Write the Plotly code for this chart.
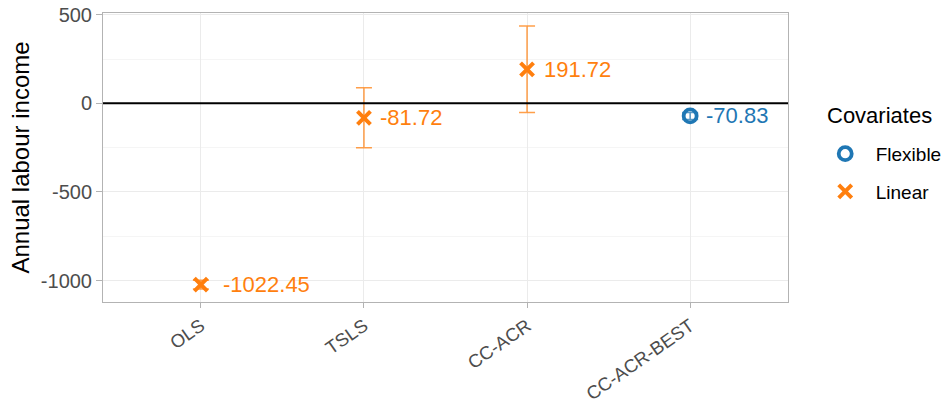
import plotly.graph_objects as go

methods = ["OLS", "TSLS", "CC-ACR", "CC-ACR-BEST"]
covariates = ["Linear", "Linear", "Linear", "Flexible"]
estimates = [-1022.45, -81.72, 191.72, -70.83]
ci_low = [-1047.0, -250.0, -51.0, -91.0]
ci_high = [-998.0, 88.0, 436.0, -51.0]

y_ticks = [500, 0, -500, -1000]
y_minor = [250, -250, -750]

colors = {"Flexible": "#1F77B4", "Linear": "#FF7F0E"}
err_colors = {"Flexible": "rgba(31,119,180,0.75)", "Linear": "rgba(255,127,14,0.75)"}
symbols = {"Flexible": "circle-open", "Linear": "x-thin-open"}
sizes = {"Flexible": 13, "Linear": 13}
lw = {"Flexible": 3.8, "Linear": 4}

FONT = "Liberation Sans, Arial, sans-serif"
LABEL_SIZE = 22
CHAR_W = {"-": 0.333, ".": 0.278}


def text_width(s, size):
    return sum(CHAR_W.get(c, 0.556) for c in s) * size


fig = go.Figure()

for grp in ["Flexible", "Linear"]:
    idx = [i for i, c in enumerate(covariates) if c == grp]
    xs = [i + 1 for i in idx]
    ys = [estimates[i] for i in idx]
    plus = [ci_high[i] - estimates[i] for i in idx]
    minus = [estimates[i] - ci_low[i] for i in idx]
    fig.add_trace(go.Scatter(
        x=xs, y=ys, mode="markers", name=grp, legendgroup=grp,
        marker=dict(symbol=symbols[grp], size=sizes[grp], color=colors[grp],
                    line=dict(width=lw[grp], color=colors[grp])),
        error_y=dict(type="data", array=plus, arrayminus=minus, symmetric=False,
                     color=err_colors[grp], thickness=1.5, width=8),
    ))
    for x, y in zip(xs, ys):
        label = f"{y:.2f}"
        shift = 0.27 * text_width(label, LABEL_SIZE) - 3
        fig.add_annotation(x=x, y=y, text=label, showarrow=False,
                           xanchor="left", yanchor="middle", xshift=shift,
                           font=dict(size=LABEL_SIZE, color=colors[grp], family=FONT))

fig.add_hline(y=0, line=dict(color="black", width=2))

# legend title as annotation
fig.add_annotation(xref="paper", yref="paper", x=1.054, y=0.647, text="Covariates",
                   showarrow=False, xanchor="left", yanchor="middle",
                   font=dict(size=22, color="black", family=FONT))

fig.update_layout(
    width=948, height=407,
    margin=dict(l=103, r=160, t=13, b=105, autoexpand=False),
    plot_bgcolor="white", paper_bgcolor="white",
    font=dict(family=FONT, color="#4D4D4D"),
    legend=dict(font=dict(size=19, color="black"),
                x=1.039, y=0.447, xanchor="left", yanchor="middle",
                itemsizing="trace", tracegroupgap=10, itemwidth=51),
    showlegend=True,
)
fig.update_xaxes(
    range=[0.4, 4.6], tickmode="array", tickvals=[1, 2, 3, 4], ticktext=methods,
    tickangle=-35, tickfont=dict(size=18.5, color="#4D4D4D"), automargin=False,
    showgrid=True, gridcolor="#EBEBEB", gridwidth=1,
    ticks="outside", ticklen=5, tickcolor="#B3B3B3",
    showline=True, linecolor="#B3B3B3", mirror=True, zeroline=False,
)
fig.update_yaxes(
    range=[-1121, 510], tickmode="array", tickvals=y_ticks,
    ticktext=[str(v) for v in y_ticks], automargin=False,
    tickfont=dict(size=20, color="#4D4D4D"), ticklabeloverflow="allow",
    title=dict(text="Annual labour income", font=dict(size=24, color="black"), standoff=4),
    showgrid=True, gridcolor="#EBEBEB", gridwidth=1,
    minor=dict(tickvals=y_minor, showgrid=True, gridcolor="#F5F5F5", gridwidth=1),
    ticks="outside", ticklen=6, tickcolor="#B3B3B3",
    showline=True, linecolor="#B3B3B3", mirror=True, zeroline=False,
)

fig.write_html("out.html", config={"displayModeBar": False},
               post_script="document.body.style.margin='0';")
